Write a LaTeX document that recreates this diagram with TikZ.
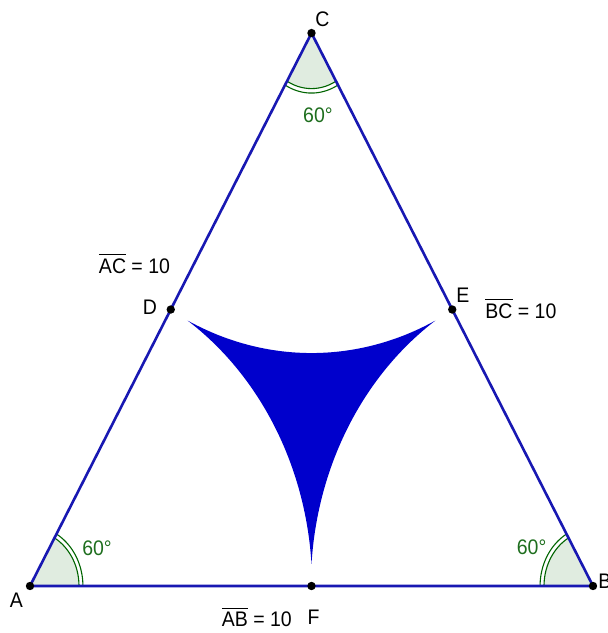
\documentclass[tikz,border=0pt]{standalone}
\usepackage{fontspec}
\setmainfont{Liberation Sans}
\definecolor{triblue}{RGB}{24,24,178}
\definecolor{regblue}{RGB}{0,0,204}
\definecolor{anggreen}{RGB}{0,100,0}
\definecolor{angtext}{RGB}{30,110,30}
\definecolor{angfill}{RGB}{224,236,224}
\tikzset{
  side/.style={draw=triblue, line width=2.6pt, line join=round},
  region/.style={fill=regblue},
  angarc/.style={draw=anggreen, line width=1.1pt},
  angsec/.style={fill=angfill},
  pt/.style={fill=black},
  lbl/.style={font=\fontsize{19.5}{22}\selectfont, yscale=1.08, inner sep=0pt},
  anglbl/.style={lbl, text=angtext},
}
\newcommand{\ovl}[1]{$\overline{\mbox{#1}\rule{0pt}{16pt}}$}
\begin{document}
\begin{tikzpicture}[x=56.3pt, y=63.85pt]
\useasboundingbox (-0.5329,-0.7361) rectangle (10.2664,9.1778);
\coordinate (A) at (0,0);
\coordinate (B) at (10,0);
\coordinate (C) at (5,8.6603);
\coordinate (D) at (2.5,4.3301);
\coordinate (E) at (7.5,4.3301);
\coordinate (F) at (5,0);
% angle sectors
\fill[angsec] (A) -- plot[variable=\t,domain=0:60,samples=30] ({0.87*cos(\t)},{0.87*sin(\t)}) -- cycle;
\fill[angsec] (B) -- plot[variable=\t,domain=120:180,samples=30] ({10+0.87*cos(\t)},{0.87*sin(\t)}) -- cycle;
\fill[angsec] (C) -- plot[variable=\t,domain=240:300,samples=30] ({5+0.87*cos(\t)},{8.6603+0.87*sin(\t)}) -- cycle;
% curved region (arcs of radius slightly over half the side)
\def\rr{5.012}
\def\al{3.97}
\fill[region] plot[variable=\t,domain=60-\al:\al,samples=80] ({\rr*cos(\t)},{\rr*sin(\t)})
  -- plot[variable=\t,domain=180-\al:120+\al,samples=80] ({10+\rr*cos(\t)},{\rr*sin(\t)})
  -- plot[variable=\t,domain=300-\al:240+\al,samples=80] ({5+\rr*cos(\t)},{8.6603+\rr*sin(\t)}) -- cycle;
% angle arcs
\foreach \r in {0.87,0.94}{
  \draw[angarc] plot[variable=\t,domain=0:60,samples=30] ({\r*cos(\t)},{\r*sin(\t)});
  \draw[angarc] plot[variable=\t,domain=120:180,samples=30] ({10+\r*cos(\t)},{\r*sin(\t)});
  \draw[angarc] plot[variable=\t,domain=240:300,samples=30] ({5+\r*cos(\t)},{8.6603+\r*sin(\t)});
}
% triangle
\draw[side] (A) -- (B) -- (C) -- cycle;
% points
\foreach \p in {A,B,C,D,E,F}{ \fill[pt] (\p) circle[radius=4.2pt]; }
% point labels
\node[lbl] (lA) at (-0.24,-0.22) {A};
\node[lbl, anchor=west] (lB) at (10.09,0.07) {B};
\node[lbl] (lC) at (5.195,8.88) {C};
\node[lbl] (lD) at (2.13,4.36) {D};
\node[lbl] (lE) at (7.69,4.56) {E};
\node[lbl] (lF) at (5.035,-0.486) {F};
% side labels
\node[lbl, anchor=base] (lAB) at (4.03,-0.642) {\ovl{AB} = 10};
\node[lbl, anchor=base] (lAC) at (1.856,4.90) {\ovl{AC} = 10};
\node[lbl, anchor=base] (lBC) at (8.72,4.19) {\ovl{BC} = 10};
% angle labels
\node[anglbl] (gA) at (1.19,0.587) {60°};
\node[anglbl] (gB) at (8.91,0.61) {60°};
\node[anglbl] (gC) at (5.115,7.37) {60°};
\end{tikzpicture}
\end{document}
